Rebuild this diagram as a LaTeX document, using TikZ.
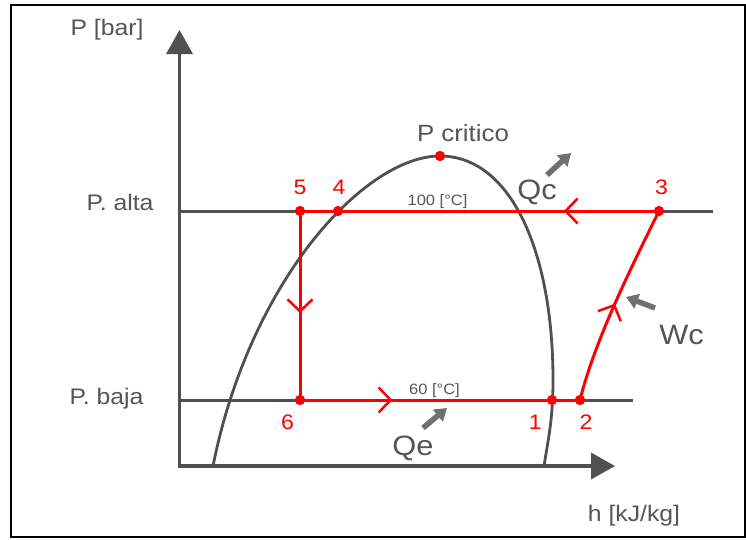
\documentclass[tikz,border=0pt]{standalone}
\usepackage{fontspec}
\setmainfont{Liberation Sans}[FakeStretch=1.1]
\usetikzlibrary{arrows.meta,decorations.markings}
\definecolor{axisgray}{HTML}{505050}
\definecolor{txtgray}{HTML}{555555}
\definecolor{hotgray}{HTML}{707070}
\definecolor{cyclered}{HTML}{FF0000}
\tikzset{
  axisline/.style={draw=axisgray, line width=3.5pt, -{Triangle[length=24pt,width=26pt]}},
  isobar/.style={draw=axisgray, line width=3pt},
  dome/.style={draw=axisgray, line width=2.8pt},
  cycleline/.style={draw=cyclered, line width=3pt},
  dot/.style={circle, fill=cyclered, inner sep=0pt, minimum size=10pt},
  lbl/.style={text=txtgray, font=\fontsize{22.5}{24}\selectfont, anchor=base, inner sep=0pt},
  num/.style={text=cyclered, font=\fontsize{21}{23}\selectfont, anchor=base, inner sep=0pt},
  biglbl/.style={text=txtgray, font=\fontsize{28}{30}\selectfont, anchor=base, inner sep=0pt},
  smalllbl/.style={text=txtgray, font=\fontsize{15}{17}\selectfont, anchor=base, inner sep=0pt},
  heat/.style={draw=hotgray, line width=5.5pt, -{Triangle[length=12pt,width=15pt]}},
  midarrow/.style={postaction={decorate}, decoration={markings, mark=at position #1 with {\arrow{Straight Barb[length=12pt,width=25pt,line width=2.5pt]}}}},
}
\begin{document}
\begin{tikzpicture}[x=1pt,y=-1pt]
\useasboundingbox (0,0) rectangle (746,539);
\fill[white] (0,0) rectangle (746,539);
\draw[black, line width=2pt] (11,5) rectangle (745,537);

% axes
\coordinate (yo) at (179.5,467.5);
\coordinate (xo) at (178,466);
\coordinate (ytip) at (179.5,30);
\coordinate (xtip) at (615,466);
\draw[axisline] (yo) -- (ytip);
\draw[axisline] (xo) -- (xtip);

% isobars
\coordinate (al) at (180,211);
\coordinate (ar) at (713,211);
\coordinate (bl) at (180,400);
\coordinate (br) at (633,400);
\draw[isobar] (al) -- (ar);
\draw[isobar] (bl) -- (br);

% points
\node[dot] (pc) at (440,156) {};
\node[dot] (p1) at (552,400) {};
\node[dot] (p2) at (580,400) {};
\node[dot] (p3) at (659,211) {};
\node[dot] (p4) at (338,211) {};
\node[dot] (p5) at (300,211) {};
\node[dot] (p6) at (300,400) {};

% dome
\coordinate (dl) at (213,466);
\coordinate (dm) at (553,380);
\coordinate (dr) at (544,466);
\draw[dome] (dl) .. controls (250,280) and (365,156) .. (pc.center)
  .. controls (510,156) and (553,250) .. (dm)
  .. controls (553,420) and (548,440) .. (dr);

% cycle
\draw[cycleline, midarrow=0.33] (p6.center) -- (p2.center);
\draw[cycleline, midarrow=0.5] (p2.center) .. controls (595,340) and (630,270) .. (p3.center);
\draw[cycleline, midarrow=0.265] (p3.center) -- (p5.center);
\draw[cycleline, midarrow=0.54] (p5.center) -- (p6.center);

% redraw dots on top
\foreach \p in {pc,p1,p2,p3,p4,p5,p6} \fill[cyclered] (\p) circle (5pt);

% heat / work arrows
\coordinate (qct) at (547,175);
\coordinate (qch) at (571,153);
\coordinate (wct) at (655,308);
\coordinate (wch) at (626,297);
\coordinate (qet) at (423,428);
\coordinate (qeh) at (447,408);
\draw[heat] (qct) -- (qch);
\draw[heat] (wct) -- (wch);
\draw[heat] (qet) -- (qeh);

% labels
\node[lbl] (lp) at (107,35.7) {P [bar]};
\node[lbl] (lalta) at (120,210.7) {P. alta};
\node[lbl] (lbaja) at (106.5,404) {P. baja};
\node[lbl] (lh) at (634,521) {h [kJ/kg]};
\node[lbl, font=\fontsize{23.5}{25}\selectfont] (lcrit) at (463,141) {P critico};
\node[smalllbl] (l100) at (437.5,205) {100 [°C]};
\node[smalllbl] (l60) at (434.5,394) {60 [°C]};
\node[biglbl] (lqc) at (537,199) {Qc};
\node[biglbl] (lwc) at (681.5,344) {Wc};
\node[biglbl] (lqe) at (413,455) {Qe};
\node[num] (n5) at (300,194) {5};
\node[num] (n4) at (339,194) {4};
\node[num] (n3) at (661.5,194) {3};
\node[num] (n6) at (287.5,429) {6};
\node[num] (n1) at (535.3,429) {1};
\node[num] (n2) at (586,429) {2};
\end{tikzpicture}
\end{document}
